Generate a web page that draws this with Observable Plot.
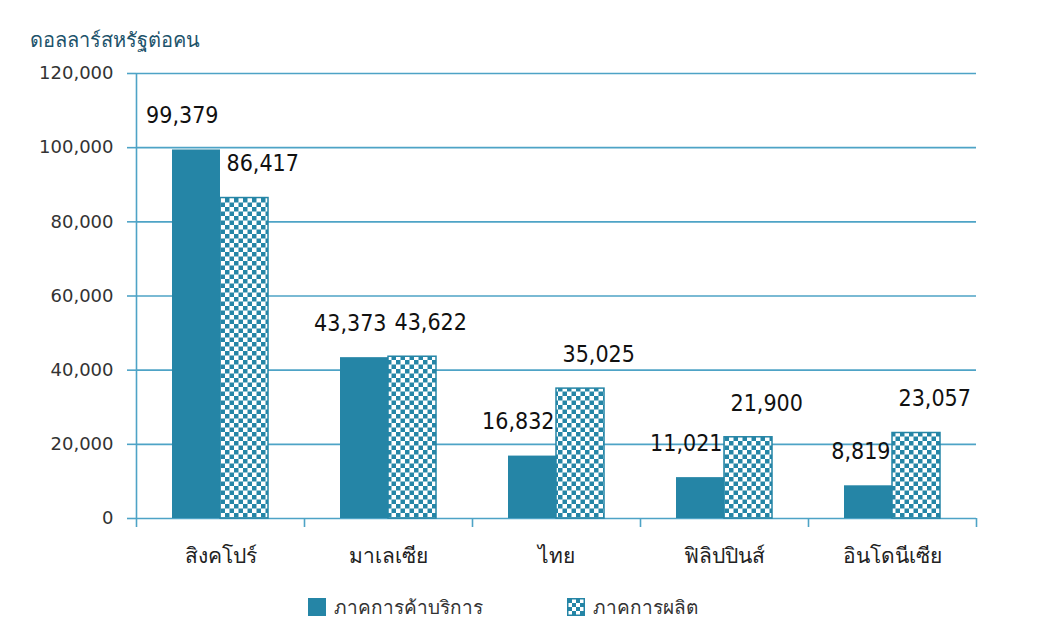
<!DOCTYPE html>
<html><head><meta charset="utf-8">
<script src="https://cdn.jsdelivr.net/npm/d3@7"></script>
<script src="https://cdn.jsdelivr.net/npm/@observablehq/plot@0.6"></script>
<style>
body{margin:0;background:#fff;font-family:Tahoma,"DejaVu Sans","Noto Sans",sans-serif;}
#wrap{position:relative;width:1053px;height:638px;}
#title{position:absolute;left:30px;top:24px;font-size:20px;color:#1d536b;}
#legend{position:absolute;left:308px;top:592px;font-size:19px;color:#333;display:flex;align-items:center;}
#legend .item{display:flex;align-items:center;}
#legend svg{margin-right:8px;}
</style></head>
<body><div id="wrap"><div id="title">ดอลลาร์สหรัฐต่อคน</div><div id="chart"></div>
<div id="legend"></div></div>
<script>
const countries = ["สิงคโปร์", "มาเลเซีย", "ไทย", "ฟิลิปปินส์", "อินโดนีเซีย"];
const seriesNames = ["ภาคการค้าบริการ", "ภาคการผลิต"];
const services = [99379, 43373, 16832, 11021, 8819];
const manufacturing = [86417, 43622, 35025, 21900, 23057];
const yTicks = [0, 20000, 40000, 60000, 80000, 100000, 120000];

const teal = "#2585a6";
const grid = "#4ea3c6";
const fmt = d3.format(",");
const numFont = '"DejaVu Sans Condensed","DejaVu Sans",sans-serif';
const svcData = countries.map((c, i) => ({country: c, value: services[i]}));
const mfgData = countries.map((c, i) => ({country: c, value: manufacturing[i]}));

const chart = Plot.plot({
  width: 1053, height: 638,
  marginTop: 73, marginBottom: 120, marginLeft: 136, marginRight: 77,
  style: {fontFamily: 'Tahoma,"DejaVu Sans","Noto Sans",sans-serif', background: "white"},
  x: {domain: countries, padding: 0},
  y: {domain: [0, 120000]},
  marks: [
    Plot.ruleY(yTicks, {stroke: grid, strokeWidth: 1.6}),
    Plot.axisY({ticks: yTicks, tickFormat: fmt, tickSize: 9, tickPadding: 14, stroke: grid, fontSize: 18, fill: "#333", label: null, strokeWidth: 1.6}),
    Plot.axisX({tickSize: 0, tickPadding: 30, fontSize: 21, fill: "#222", label: null}),
    Plot.barY(svcData, {x: "country", y: "value", fill: teal, insetLeft: 36, insetRight: 84}),
    Plot.barY(mfgData, {x: "country", y: "value", fill: "url(#checker)", stroke: teal, strokeWidth: 1.5, insetLeft: 84, insetRight: 36}),
    Plot.ruleX(countries, {x: d => d, y1: 0, y2: 0, insetBottom: -9, dx: -84, stroke: grid, strokeWidth: 1.6}),
    Plot.ruleX([countries[countries.length - 1]], {x: d => d, y1: 0, y2: 0, insetBottom: -9, dx: 84, stroke: grid, strokeWidth: 1.6}),
    Plot.ruleX([countries[0]], {x: d => d, y1: 0, y2: 120000, dx: -84, stroke: grid, strokeWidth: 1.6}),
    Plot.text(svcData, {x: "country", y: "value", text: d => fmt(d.value), textAnchor: "end", dx: -2, dy: -34, fontSize: 23, fontFamily: numFont, fill: "#111"}),
    Plot.text(mfgData, {x: "country", y: "value", text: d => fmt(d.value), textAnchor: "start", dx: 6, dy: -34, fontSize: 23, fontFamily: numFont, fill: "#111"})
  ]
});

const ns = "http://www.w3.org/2000/svg";
function addPattern(svg, id) {
  const defs = document.createElementNS(ns, "defs");
  defs.innerHTML = `<pattern id="${id}" width="9" height="9" patternUnits="userSpaceOnUse">
    <rect width="9" height="9" fill="white"/>
    <rect width="4.5" height="4.5" fill="${teal}"/>
    <rect x="4.5" y="4.5" width="4.5" height="4.5" fill="${teal}"/></pattern>`;
  svg.insertBefore(defs, svg.firstChild);
}
addPattern(chart, "checker");
document.getElementById("chart").appendChild(chart);

const legend = document.getElementById("legend");
seriesNames.forEach((name, i) => {
  const item = document.createElement("div");
  item.className = "item";
  if (i > 0) item.style.marginLeft = "84px";
  const fill = i === 0 ? teal : "url(#checkerLeg)";
  item.innerHTML = `<svg width="18" height="18"><defs><pattern id="checkerLeg" width="8" height="8" patternUnits="userSpaceOnUse" x="1" y="1"><rect width="8" height="8" fill="white"/><rect width="4" height="4" fill="${teal}"/><rect x="4" y="4" width="4" height="4" fill="${teal}"/></pattern></defs><rect x="0.75" y="0.75" width="16.5" height="16.5" fill="${fill}" stroke="${teal}" stroke-width="1.5"/></svg><span>${name}</span>`;
  legend.appendChild(item);
});
</script></body></html>
